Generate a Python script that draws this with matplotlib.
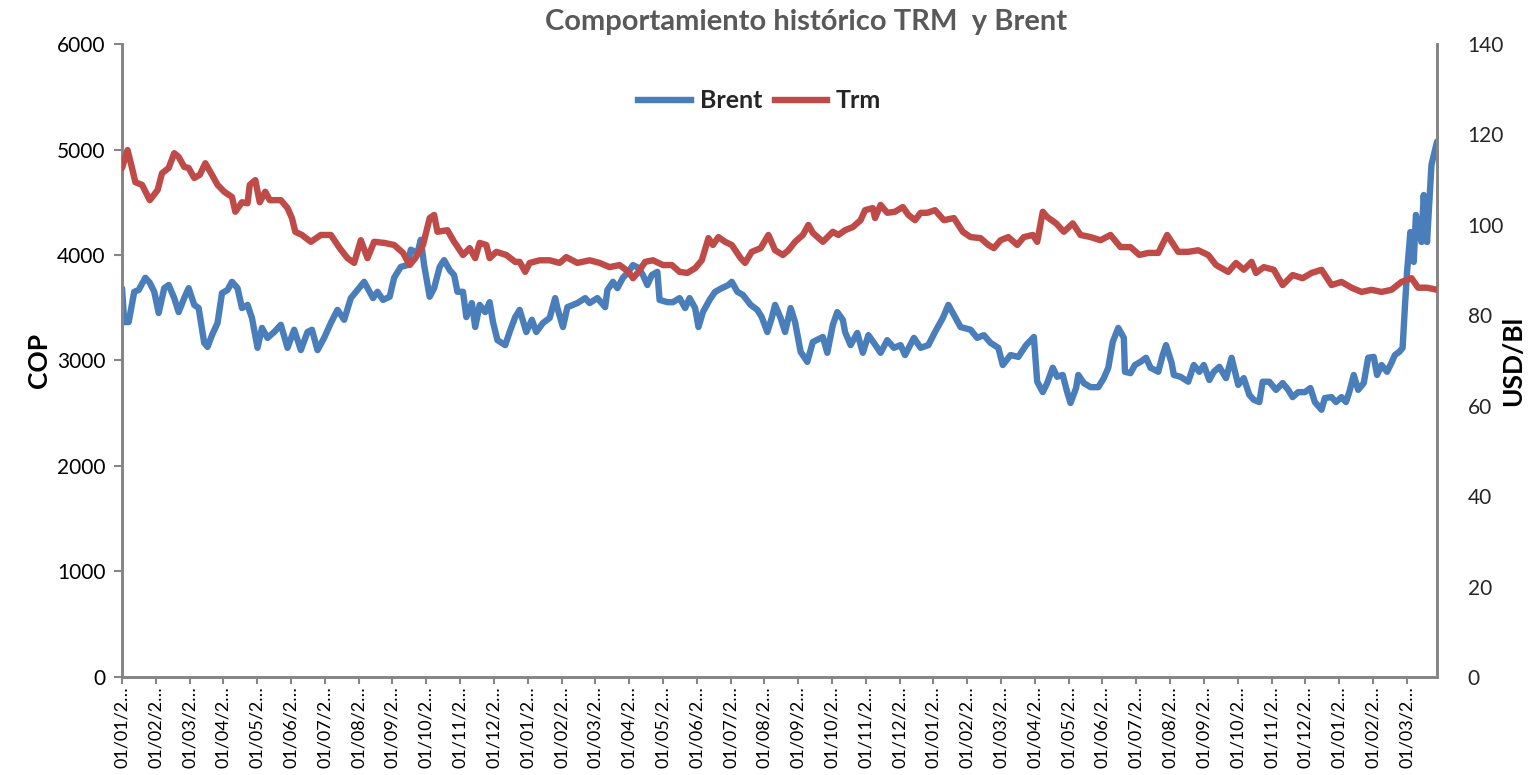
import matplotlib
matplotlib.use("Agg")
import matplotlib.pyplot as plt
from matplotlib.lines import Line2D

# TRM (COP) - dias desde 01/01 del primer año
trm_dias = [0, 5, 9, 12, 18, 25, 32, 36, 42, 47, 51, 56, 60, 65, 70, 75, 81, 86, 92, 99,
            102, 108, 113, 115, 120, 124, 129, 133, 143, 149, 153, 156, 162, 170, 179, 188,
            196, 203, 209, 215, 221, 227, 236, 245, 253, 259, 264, 271, 277, 281, 284, 293,
            299, 301, 307, 313, 318, 322, 328, 331, 337, 346, 354, 358, 363, 367, 376, 385,
            394, 400, 410, 421, 430, 439, 448, 456, 460, 465, 471, 478, 487, 495, 502, 509,
            516, 522, 528, 532, 537, 543, 549, 557, 561, 567, 575, 582, 588, 595, 600, 606,
            613, 618, 622, 631, 640, 645, 651, 658, 665, 669, 676, 678, 683, 689, 696, 703,
            708, 714, 719, 725, 732, 740, 749, 757, 764, 773, 780, 785, 791, 798, 806, 812,
            820, 824, 829, 833, 841, 848, 856, 863, 872, 881, 890, 899, 908, 916, 924, 933,
            941, 951, 960, 969, 978, 985, 996, 1003, 1010, 1017, 1021, 1028, 1037, 1045, 1054,
            1063, 1071, 1080, 1089, 1098, 1107, 1116, 1125, 1134, 1143, 1152, 1161, 1167,
            1175, 1184]
trm = [4825, 4995, 4825, 4690, 4665, 4520, 4615, 4775, 4825, 4965, 4930, 4835, 4825, 4730,
       4760, 4870, 4760, 4665, 4600, 4550, 4410, 4500, 4490, 4665, 4710, 4500, 4600, 4520,
       4520, 4445, 4350, 4220, 4190, 4125, 4190, 4190, 4065, 3970, 3925, 4140, 3970, 4125,
       4115, 4095, 4020, 3905, 3970, 4095, 4350, 4380, 4220, 4235, 4125, 4095, 4000, 4065,
       3970, 4115, 4095, 3970, 4030, 4000, 3935, 3935, 3840, 3925, 3950, 3950, 3925, 3980,
       3925, 3950, 3925, 3885, 3905, 3840, 3780, 3840, 3935, 3950, 3905, 3905, 3840, 3830,
       3875, 3950, 4160, 4095, 4170, 4125, 4095, 3970, 3925, 4030, 4065, 4190, 4045, 4000,
       4045, 4125, 4190, 4285, 4210, 4125, 4220, 4190, 4235, 4265, 4330, 4425, 4445, 4350,
       4475, 4400, 4410, 4455, 4380, 4330, 4400, 4400, 4425, 4330, 4350, 4220, 4170, 4160,
       4095, 4065, 4140, 4170, 4095, 4170, 4190, 4125, 4410, 4360, 4300, 4220, 4300, 4190,
       4170, 4140, 4190, 4075, 4075, 4000, 4020, 4020, 4190, 4030, 4030, 4045, 4000, 3905,
       3840, 3925, 3860, 3935, 3830, 3885, 3860, 3715, 3810, 3780, 3830, 3860, 3715, 3745,
       3690, 3650, 3670, 3650, 3670, 3745, 3780, 3690, 3690, 3670]

# Brent (USD/Bl)
brent_dias = [0, 2, 6, 11, 15, 21, 25, 29, 33, 38, 42, 47, 51, 56, 60, 65, 69, 74, 77, 81,
              86, 90, 95, 99, 104, 108, 113, 117, 122, 126, 131, 137, 143, 149, 155, 161,
              167, 171, 176, 182, 188, 194, 200, 206, 212, 218, 226, 230, 235, 241, 245, 251,
              257, 260, 266, 269, 272, 277, 281, 286, 290, 295, 299, 302, 307, 310, 315, 318,
              322, 327, 331, 334, 338, 345, 349, 354, 358, 364, 369, 373, 379, 385, 390, 392,
              397, 401, 410, 417, 421, 428, 435, 437, 442, 446, 451, 456, 460, 465, 469, 473,
              477, 482, 484, 491, 496, 502, 507, 511, 516, 519, 523, 529, 534, 540, 546, 549,
              554, 559, 566, 572, 576, 581, 585, 588, 593, 597, 602, 606, 611, 617, 622, 631,
              635, 640, 644, 649, 651, 656, 662, 667, 672, 677, 683, 689, 695, 701, 705, 713,
              719, 726, 732, 739, 744, 749, 755, 764, 770, 776, 782, 789, 793, 800, 807, 814,
              821, 824, 829, 833, 838, 842, 847, 851, 854, 859, 861, 866, 872, 879, 884, 888,
              892, 897, 902, 903, 908, 912, 917, 922, 926, 933, 937, 940, 945, 947, 953, 960,
              965, 970, 974, 979, 983, 988, 994, 999, 1005, 1010, 1015, 1019, 1024, 1027, 1033,
              1039, 1045, 1050, 1054, 1059, 1065, 1070, 1074, 1080, 1083, 1089, 1093, 1098,
              1102, 1105, 1109, 1113, 1118, 1122, 1127, 1130, 1134, 1139, 1143, 1146, 1150,
              1153, 1155, 1157, 1160, 1163, 1165, 1170, 1172, 1175, 1178, 1179, 1184]
brent = [86.0, 78.5, 78.5, 85.2, 85.6, 88.3, 87.2, 85.2, 80.5, 86.0, 86.7, 83.8, 80.7, 83.8,
         86.0, 82.3, 81.6, 73.9, 73.0, 75.6, 78.3, 84.9, 85.6, 87.4, 86.0, 81.6, 82.3, 79.4,
         72.8, 77.2, 75.0, 76.3, 77.9, 72.8, 76.8, 72.3, 76.3, 76.8, 72.3, 75.0, 78.3, 81.2,
         79.0, 83.8, 85.6, 87.4, 83.8, 85.2, 83.4, 84.1, 88.3, 90.7, 91.1, 94.5, 93.8, 96.7,
         91.1, 84.1, 86.0, 90.7, 92.2, 90.0, 88.9, 85.2, 85.2, 79.6, 82.7, 77.4, 82.3, 80.7,
         82.9, 78.5, 74.5, 73.4, 76.3, 79.6, 81.2, 76.3, 79.0, 76.3, 78.3, 79.4, 83.8, 81.6,
         77.4, 81.8, 82.7, 83.8, 82.7, 83.8, 81.8, 85.6, 87.4, 86.0, 88.3, 89.6, 91.1, 90.5,
         88.9, 86.7, 88.9, 89.6, 83.4, 82.9, 82.9, 83.8, 81.6, 83.8, 81.6, 77.4, 80.7, 83.4,
         85.2, 86.0, 86.7, 87.4, 85.2, 84.5, 82.3, 81.2, 79.6, 76.3, 79.4, 82.3, 79.4, 76.3,
         81.6, 78.5, 71.9, 69.7, 74.1, 75.2, 71.7, 77.9, 80.7, 79.0, 76.3, 73.4, 76.1, 71.7,
         75.6, 73.9, 71.7, 74.5, 72.8, 73.4, 71.2, 75.0, 72.8, 73.4, 76.3, 79.4, 82.3, 80.1,
         77.4, 76.8, 75.0, 75.6, 73.9, 72.8, 69.0, 71.2, 70.8, 73.4, 75.2, 65.3, 63.0, 65.0,
         68.4, 66.4, 66.8, 63.0, 60.6, 63.9, 66.8, 65.0, 64.1, 64.1, 66.1, 68.4, 74.1, 77.2,
         75.0, 67.5, 67.2, 69.0, 69.7, 70.6, 68.4, 67.5, 71.2, 73.4, 69.5, 66.8, 66.4, 65.3,
         69.0, 67.5, 69.0, 65.7, 67.5, 68.6, 66.1, 70.6, 64.6, 66.1, 62.4, 61.3, 60.8, 65.3,
         65.3, 63.5, 65.0, 63.5, 61.9, 63.0, 63.0, 63.9, 60.8, 59.1, 61.7, 61.9, 60.8, 61.9,
         60.8, 63.0, 66.8, 63.5, 65.0, 70.6, 70.8, 66.8, 69.0, 67.5, 69.5, 71.2, 71.9, 72.8,
         81.6, 89.6, 98.4, 91.8, 102.2, 96.2, 106.6, 96.2, 108.8, 113.3, 118.4]

# etiquetas mensuales del eje de categorias (Excel las trunca)
meses = [m % 12 + 1 for m in range(39)]
etiquetas = [f"01/{m:02d}/2\u2026" for m in meses]
dias_mes = 30.44

AZUL = "#4A7EBB"
ROJO = "#BE4B48"
GRIS = "#868686"
plt.rcParams["font.family"] = ["Lato", "DejaVu Sans"]

fig = plt.figure(figsize=(15.33, 7.75), dpi=100)
ax = fig.add_axes([0.0796, 0.1265, 0.8578, 0.8167])
ax2 = ax.twinx()

ax2.plot(brent_dias, brent, color=AZUL, lw=4.6, solid_joinstyle="round",
         solid_capstyle="round", zorder=2)
ax.plot(trm_dias, trm, color=ROJO, lw=4.6, solid_joinstyle="round",
        solid_capstyle="round", zorder=3)
ax.set_zorder(ax2.get_zorder() + 1)
ax.patch.set_visible(False)

ax.set_xlim(0, 1184)
ax.set_ylim(0, 6000)
ax2.set_ylim(0, 140)
ax.set_yticks(range(0, 6001, 1000))
ax2.set_yticks(range(0, 141, 20))
ax.set_xticks([m * dias_mes for m in range(39)])
ax.set_xticklabels(etiquetas, rotation=90, fontsize=13, color="#000000")

for a in (ax, ax2):
    for s in a.spines.values():
        s.set_color(GRIS)
        s.set_linewidth(2)
    a.spines["top"].set_visible(False)

ax.tick_params(axis="y", colors=GRIS, labelcolor="#000000", labelsize=15,
               length=6, width=1.5, pad=6)
ax.tick_params(axis="x", colors=GRIS, labelcolor="#000000", length=5, width=1.5, pad=2)
ax2.tick_params(axis="y", length=0, labelsize=15, labelcolor="#262626", pad=22)

ax.set_ylabel("COP", fontsize=19, fontweight="bold", labelpad=4)
ax2.set_ylabel("USD/Bl", fontsize=19, fontweight="bold", labelpad=-2)

fig.text(0.526, 0.972, "Comportamiento histórico TRM  y Brent", fontsize=21,
         fontweight="bold", color="#595959", ha="center", va="center")

handles = [Line2D([], [], color=AZUL, lw=4.6), Line2D([], [], color=ROJO, lw=4.6)]
leg = ax.legend(handles, ["Brent", "Trm"], loc="center", bbox_to_anchor=(0.485, 0.91),
                ncol=2, frameon=False, handlelength=2.1, columnspacing=0.5,
                handletextpad=0.35, prop={"weight": "bold", "size": 18})
for t in leg.get_texts():
    t.set_color("#262626")

fig.savefig("out.png", dpi=100)
